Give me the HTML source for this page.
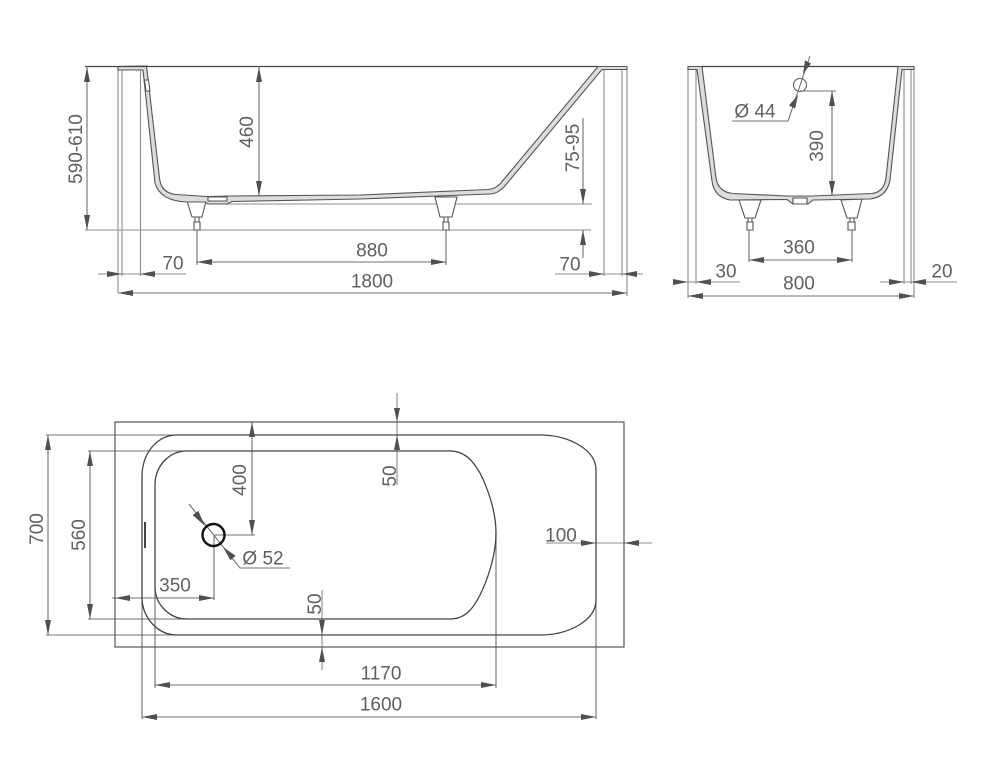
<!DOCTYPE html>
<html><head><meta charset="utf-8"><style>
html,body{margin:0;padding:0;background:#fff}
svg{display:block}
text{font-family:"Liberation Sans",sans-serif;font-size:19px;fill:#606060;text-anchor:middle;dominant-baseline:central}
.d{stroke:#707070;stroke-width:1.1;fill:none}
.e{stroke:#8c8c8c;stroke-width:1.1;fill:none}
.o{stroke:#444;stroke-width:1.3;fill:none}
.s{fill:#dcdcdc;stroke:#555;stroke-width:1.1}
.l{fill:#fff;stroke:#555;stroke-width:1.1}
.a{fill:#505050;stroke:none}
</style></head><body>
<svg width="1000" height="783" viewBox="0 0 1000 783" xmlns="http://www.w3.org/2000/svg">
<!-- side view -->
<g class="e">
<path d="M118,66V293M122,70V276M140.500,70V276M604,69V276M622,69V276M627,69V296"/>
<path d="M85,230H591M227,204H592M98,274H186M555,274H643"/>
</g>
<path class="l" d="M187,201L192,217H202L206,201ZM435,197L440,217H452L457,197Z"/>
<path class="l" d="M195,217H199V222H195ZM444,217H448V222H444Z"/>
<path class="l" d="M194,222H200V230H194ZM443,222H449V230H443Z"/>
<path class="s" d="M146.500,66L159.500,178Q161,193 176,194.500L207,196.500L228,196L360,195L488,189.500Q495,189 500,184L598,66.500H627V69.500H602L504,187Q497,194 490,194L360,199L232,201.500L227,204H208L205,202H187Q160,201 155,183L143,70H118V66.500Z"/>
<path class="l" d="M144.500,80H148.500L150,91H146Z" stroke="none"/>
<path class="l" d="M208,197H227V201H208Z" fill="#e8e8e8"/>
<path class="o" d="M85,66.500H598" stroke-width="1.4"/>
<g class="d">
<path d="M87,66V230M259,66V196M197,230V265M446,230V265M197,262H446M118,293H627M583,118V204M583,230V258"/>
</g>
<g class="a">
<polygon points="87,67 84,82 90,82"/><polygon points="87,230 84,215 90,215"/>
<polygon points="259,67 256,82 262,82"/><polygon points="259,196 256,181 262,181"/>
<polygon points="197,262 212,259 212,265"/><polygon points="446,262 431,259 431,265"/>
<polygon points="118,293 133,290 133,296"/><polygon points="627,293 612,290 612,296"/>
<polygon points="122,274 107,271 107,277"/><polygon points="140,274 155,271 155,277"/>
<polygon points="604,274 589,271 589,277"/><polygon points="622,274 637,271 637,277"/>
<polygon points="583,204 580,189 586,189"/><polygon points="583,230 580,245 586,245"/>
</g>
<text dy="1.5" x="75" y="149" transform="rotate(-90 75 149)">590-610</text>
<text dy="1.5" x="246" y="132" transform="rotate(-90 246 132)">460</text>
<text dy="1.5" x="572" y="148" transform="rotate(-90 572 148)">75-95</text>
<text dy="1" x="173" y="263">70</text>
<text dy="1" x="372" y="250">880</text>
<text dy="1" x="372" y="281">1800</text>
<text dy="1" x="570" y="264">70</text>

<!-- end view -->
<g class="e">
<path d="M688,66V298M696,70V284M904,70V284M911,70V284M914,66V298"/>
<path d="M673,282H740M880,282H957"/>
</g>
<path class="l" d="M739,200L745,218H755L761,200ZM841,200L847,218H857L862,199Z"/>
<path class="l" d="M748,218H752V222H748ZM850,218H854V222H850Z"/>
<path class="l" d="M747,222H753V230H747ZM848,222H855V230H848Z"/>
<path class="s" d="M688,66.500H702L716,178Q718,192 733,193.500L787,196H812L872,193.500Q884,192 886,178L898,66.500H914V69.500H902L890,180Q887,197 870,199L813,200L808,204H793L787,199.500L730,200Q714,197 712,181L697,69.500H688Z"/>
<path class="l" d="M793,198H807V204H793Z"/>
<path class="o" d="M702,66.500H898"/>
<circle cx="800" cy="85" r="6.500" fill="#fff" stroke="#555"/>
<g class="d">
<path d="M810,56L788,121H732M800,91H836M832,91V196M749,230V262M852,230V262M749,260H852M688,296H914"/>
</g>
<g class="a">
<polygon points="803,74 811,63.600 805,60.400"/><polygon points="798,95 795.100,108.600 788.900,105.400"/>
<polygon points="832,91 829,106 835,106"/><polygon points="832,196 829,181 835,181"/>
<polygon points="749,260 764,257 764,263"/><polygon points="852,260 837,257 837,263"/>
<polygon points="688,296 703,293 703,299"/><polygon points="914,296 899,293 899,299"/>
<polygon points="688,282 673,279 673,285"/><polygon points="696,282 711,279 711,285"/>
<polygon points="904,282 889,279 889,285"/><polygon points="911,282 926,279 926,285"/>
</g>
<text dy="1" x="755" y="111">Ø 44</text>
<text dy="1.5" x="816" y="146" transform="rotate(-90 816 146)">390</text>
<text dy="1" x="799" y="247">360</text>
<text dy="1" x="726" y="271">30</text>
<text dy="1" x="799" y="283">800</text>
<text dy="1" x="942" y="271">20</text>

<!-- plan view -->
<g class="e">
<path d="M397,393V485M322,590V670M546,543H652"/>
</g>
<path class="d" d="M46,435H177M46,635H177M88,451H187M88,619H187M48,435V635M90,451V619M252,422V535M214,535H255M214,535V600M112,598H214"/>
<path class="d" d="M189,504L240,568H290"/>
<path class="d" d="M155,587V688M496,533V688M142,597V719M596,600V719M155,685H496M142,717H596"/>
<rect x="115" y="422" width="509" height="225" fill="none" stroke="#555" stroke-width="1.200"/>
<path class="o" d="M177,435H543C570,436 596,450 596,470V600C596,620 570,634 543,635H177C158,635 142,618 142,597V477C142,452 158,435 177,435Z"/>
<path class="o" d="M187,451H450C465,451 473,461 480,473C487,487 496,510 496,533C496,556 487,581 480,595C473,609 465,619 450,619H187C169,619 155,604 155,587V485C155,466 169,451 187,451Z"/>
<rect x="144" y="522" width="2" height="26" fill="#444"/>
<circle cx="213.500" cy="535" r="11" fill="none" stroke="#111" stroke-width="2.400"/>
<g class="a">
<polygon points="48,435 45,450 51,450"/><polygon points="48,635 45,620 51,620"/>
<polygon points="90,451 87,466 93,466"/><polygon points="90,619 87,604 93,604"/>
<polygon points="252,422 249,437 255,437"/><polygon points="252,535 249,520 255,520"/>
<polygon points="115,598 130,595 130,601"/><polygon points="214,598 199,595 199,601"/>
<polygon points="205,526 198.300,510.900 192.700,515.100"/><polygon points="223,547 235.600,555.700 230.400,560.300"/>
<polygon points="322,635 319,620 325,620"/><polygon points="322,647 319,662 325,662"/>
<polygon points="397,422 394,408 400,408"/><polygon points="397,435 394,450 400,450"/>
<polygon points="596,543 581,540 581,546"/><polygon points="624,543 639,540 639,546"/>
<polygon points="155,685 170,682 170,688"/><polygon points="496,685 481,682 481,688"/>
<polygon points="142,717 157,714 157,720"/><polygon points="596,717 581,714 581,720"/>
</g>
<text dy="1.5" x="36" y="529" transform="rotate(-90 36 529)">700</text>
<text dy="1.5" x="78" y="535" transform="rotate(-90 78 535)">560</text>
<text dy="1.5" x="239" y="480" transform="rotate(-90 239 480)">400</text>
<text dy="1.5" x="389" y="476" transform="rotate(-90 389 476)">50</text>
<text dy="1.5" x="314" y="604" transform="rotate(-90 314 604)">50</text>
<text dy="1" x="175" y="585">350</text>
<text dy="1" x="263" y="558">Ø 52</text>
<text dy="1" x="561" y="535">100</text>
<text dy="1" x="381" y="673">1170</text>
<text dy="1" x="381" y="704">1600</text>
</svg>
</body></html>
